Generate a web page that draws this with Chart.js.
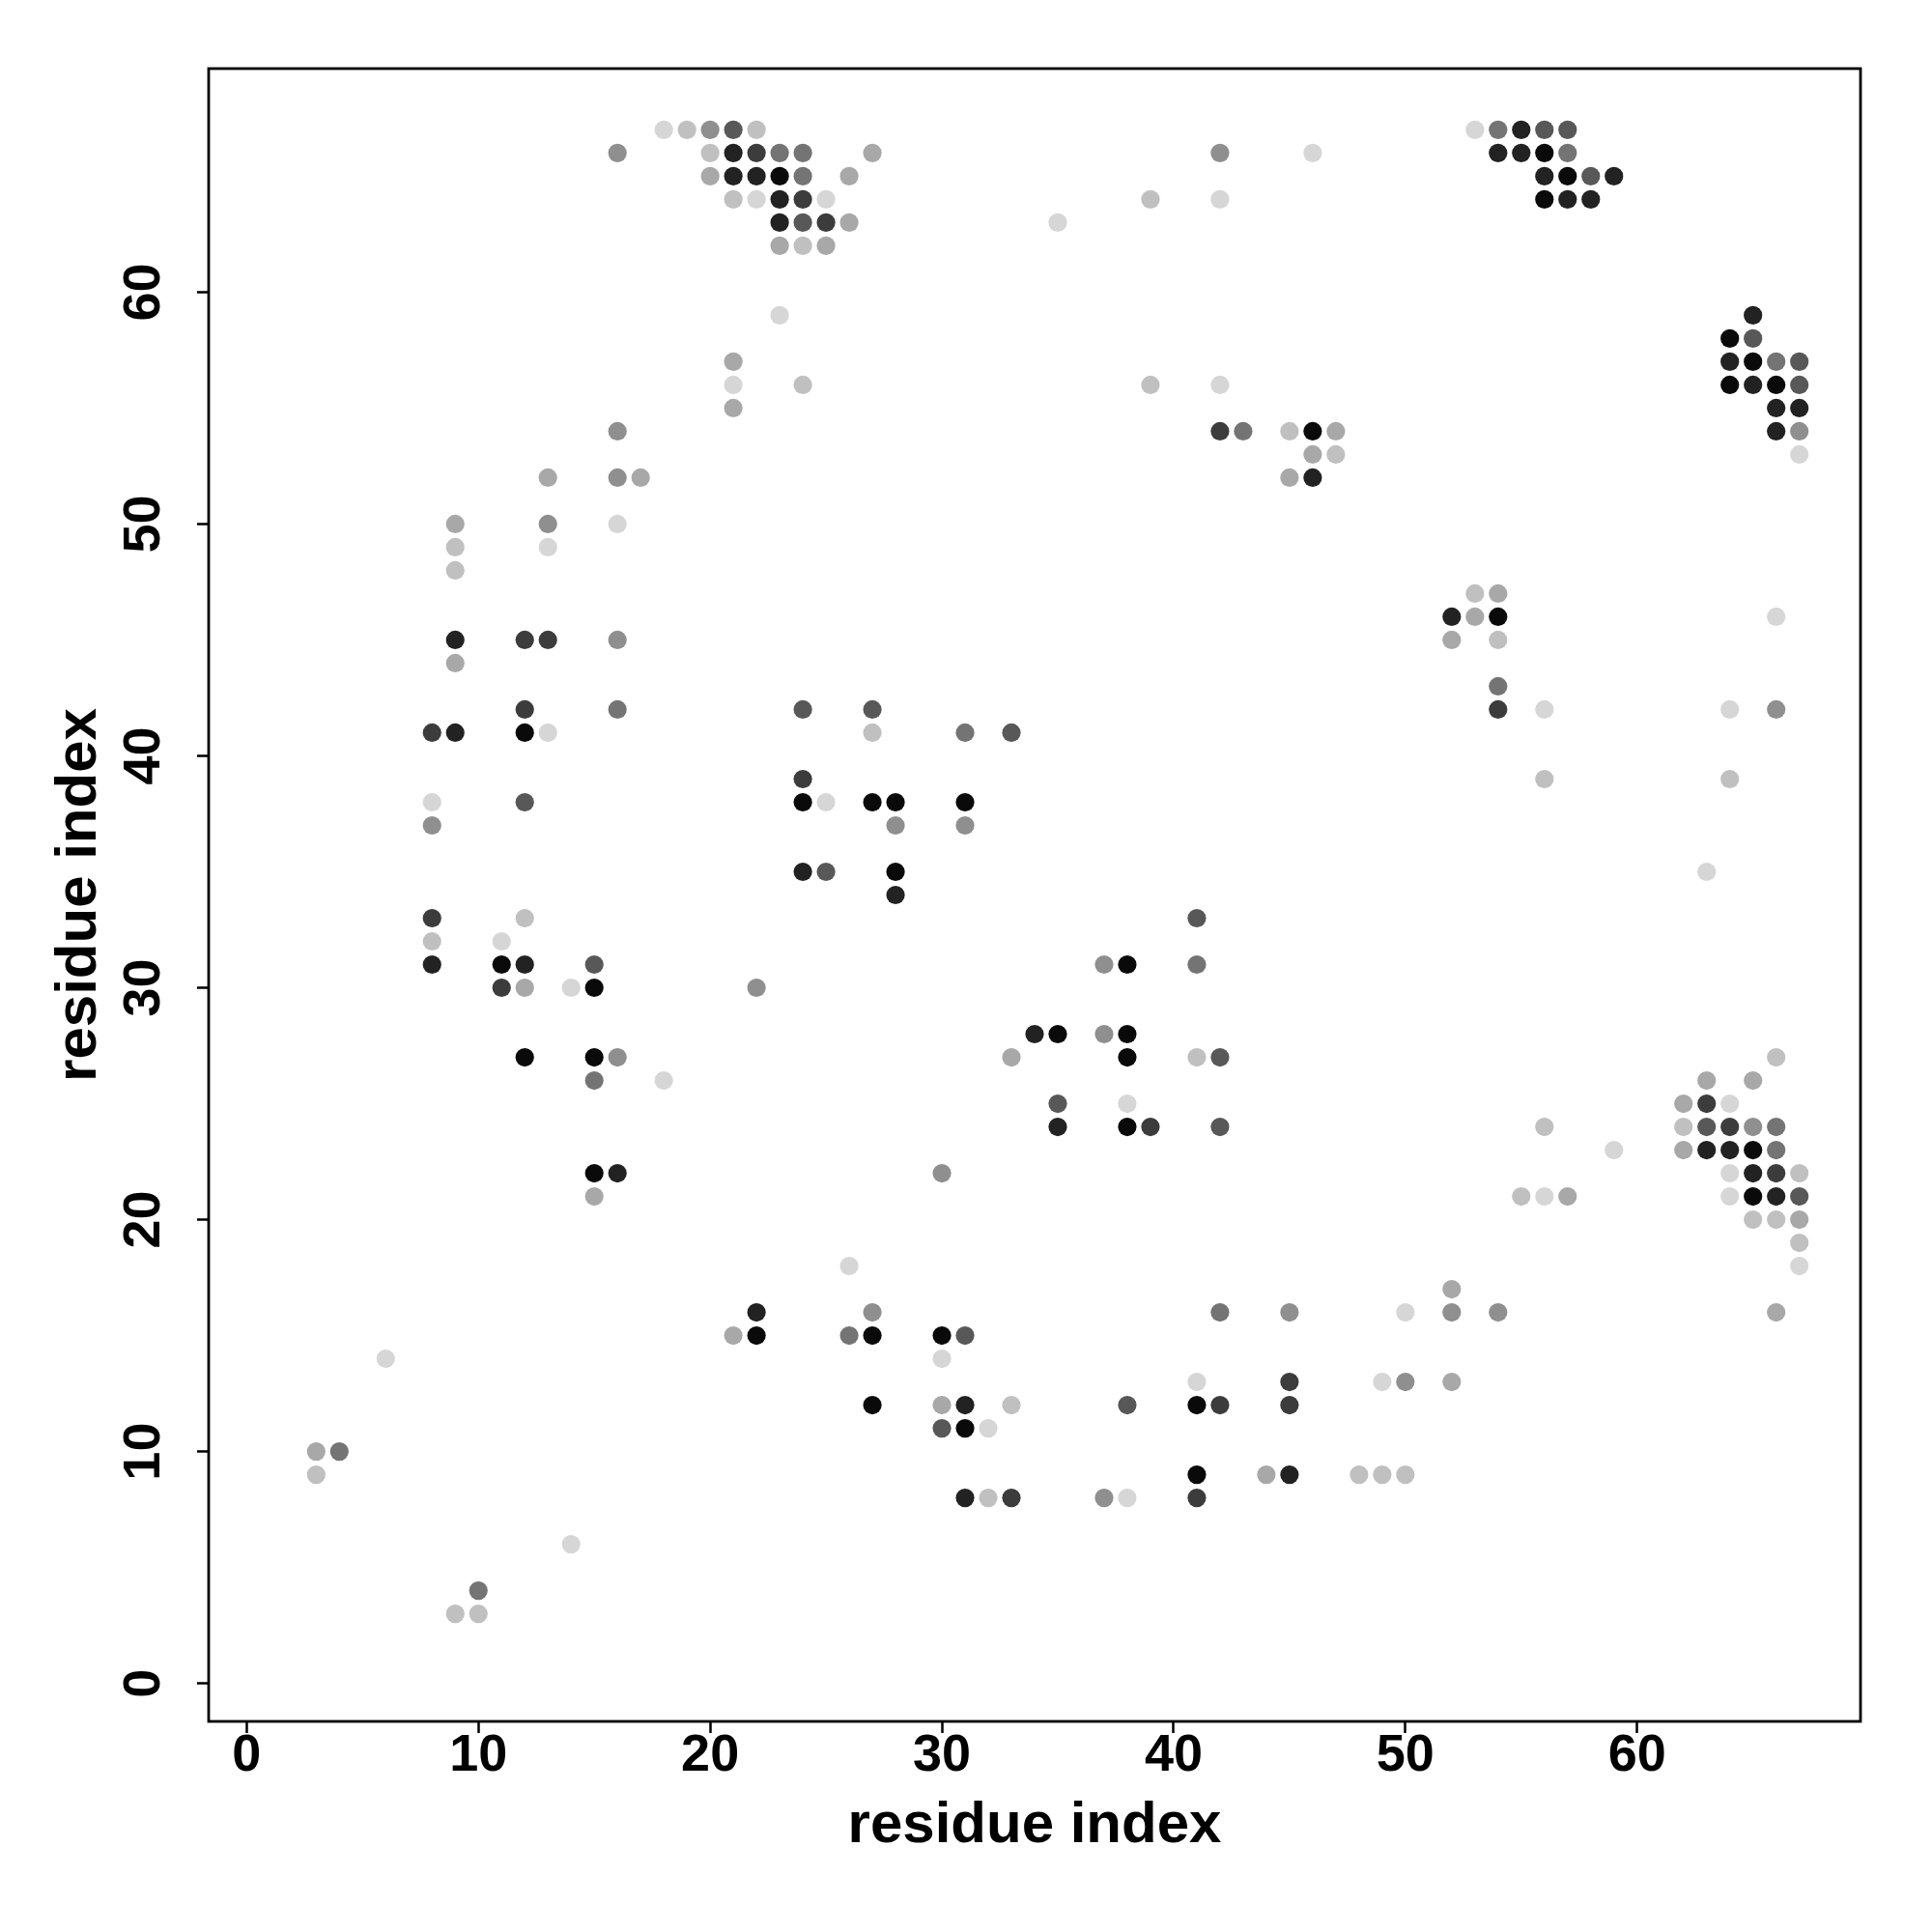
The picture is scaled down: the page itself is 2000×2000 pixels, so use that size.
<!DOCTYPE html>
<html>
<head>
<meta charset="utf-8">
<script src="https://cdn.jsdelivr.net/npm/chart.js@4.4.1/dist/chart.umd.min.js"></script>
<style>
  html, body { margin: 0; padding: 0; background: #fff; }
  canvas { display: block; }
</style>
</head>
<body>
<canvas id="contactMap" width="2000" height="2000"></canvas>
<script>
// axis ticks and limits
const xTicks = [0, 10, 20, 30, 40, 50, 60];
const yTicks = [0, 10, 20, 30, 40, 50, 60];
const axisMin = -1.64;
const axisMax = 69.64;

// one colour per contact strength, darkest first
const shadeColors = ["#0a0a0a", "#222222", "#3c3c3c", "#585858", "#747474",
                     "#8f8f8f", "#a8a8a8", "#c0c0c0", "#d6d6d6"];

// [residue i, residue j] pairs for each shade
const shade0 = [[23,65],[56,66],[57,65],[56,64],[64,58],[65,57],[64,56],[66,56],[46,54],[54,46],
  [12,41],[24,38],[27,38],[28,38],[31,38],[28,35],[11,31],[38,31],[15,30],[35,28],[38,28],
  [12,27],[15,27],[38,27],[38,24],[65,23],[15,22],[65,21],[22,15],[27,15],[30,15],[27,12],
  [41,12],[31,11],[41,9]];
const shade1 = [[55,67],[21,66],[54,66],[55,66],[21,65],[22,65],[56,65],[59,65],[23,64],[57,64],
  [58,64],[23,63],[65,59],[64,57],[65,56],[66,55],[67,55],[66,54],[46,52],[52,46],[9,45],
  [9,41],[24,35],[28,34],[8,31],[12,31],[34,28],[35,24],[63,23],[64,23],[16,22],[65,22],
  [66,21],[22,16],[31,12],[45,9],[31,8]];
const shade2 = [[22,66],[24,64],[25,63],[42,54],[12,45],[13,45],[12,42],[54,42],[8,41],[24,39],
  [8,33],[11,30],[63,25],[39,24],[64,24],[66,22],[45,13],[42,12],[45,12],[33,8],[41,8]];
const shade3 = [[21,67],[56,67],[57,67],[58,65],[24,63],[65,58],[67,57],[67,56],[24,42],[27,42],
  [33,41],[12,38],[25,35],[41,33],[15,31],[42,27],[35,25],[42,24],[63,24],[67,21],[31,15],
  [38,12],[30,11]];
const shade4 = [[54,67],[23,66],[24,66],[57,66],[24,65],[43,54],[66,57],[54,43],[16,42],[31,41],
  [41,31],[15,26],[66,24],[66,23],[42,16],[26,15],[4,10],[10,4]];
const shade5 = [[20,67],[16,66],[42,66],[16,54],[67,54],[16,52],[13,50],[16,45],[66,42],[8,37],
  [28,37],[31,37],[37,31],[22,30],[37,28],[16,27],[65,24],[30,22],[27,16],[45,16],[52,16],
  [54,16],[50,13],[37,8]];
const shade6 = [[27,66],[20,65],[26,65],[26,63],[23,62],[25,62],[21,57],[21,55],[47,54],[46,53],
  [13,52],[17,52],[45,52],[9,50],[54,47],[53,46],[52,45],[9,44],[12,30],[33,27],[63,26],
  [65,26],[62,25],[62,23],[15,21],[57,21],[67,20],[52,17],[66,16],[21,15],[52,13],[30,12],
  [3,10],[44,9]];
const shade7 = [[19,67],[22,67],[20,66],[21,64],[39,64],[24,62],[24,56],[39,56],[45,54],[47,53],
  [9,49],[9,48],[53,47],[54,45],[27,41],[56,39],[64,39],[12,33],[8,32],[41,27],[66,27],
  [56,24],[62,24],[67,22],[55,21],[65,20],[66,20],[67,19],[33,12],[3,9],[48,9],[49,9],
  [50,9],[32,8],[9,3],[10,3]];
const shade8 = [[18,67],[53,67],[46,66],[22,64],[25,64],[42,64],[35,63],[23,59],[21,56],[42,56],
  [67,53],[16,50],[13,49],[66,46],[56,42],[64,42],[13,41],[8,38],[25,38],[63,35],[11,32],
  [14,30],[18,26],[38,25],[64,25],[59,23],[64,22],[56,21],[64,21],[26,18],[67,18],[50,16],
  [6,14],[30,14],[41,13],[49,13],[32,11],[38,8],[14,6]];

const shades = [shade0, shade1, shade2, shade3, shade4, shade5, shade6, shade7, shade8];

const FONT = "'Liberation Sans', Arial, Helvetica, sans-serif";

// frame round the plot region
const boxPlugin = {
  id: "box",
  afterDatasetsDraw(chart) {
    const { ctx, chartArea: a } = chart;
    ctx.save();
    ctx.lineWidth = 2.8;
    ctx.strokeStyle = "#000";
    ctx.strokeRect(a.left, a.top, a.right - a.left, a.bottom - a.top);
    ctx.restore();
  }
};

const datasets = shades.map((pts, k) => ({
  label: "shade " + k,
  data: pts.map(p => ({ x: p[0], y: p[1] })),
  backgroundColor: shadeColors[k],
  borderWidth: 0,
  pointRadius: 9.6,
  pointHoverRadius: 9.6
}));

const ctx = document.getElementById("contactMap").getContext("2d");
new Chart(ctx, {
  type: "scatter",
  data: { datasets: datasets },
  plugins: [boxPlugin],
  options: {
    responsive: false,
    animation: false,
    layout: { padding: { left: 0, top: 71, right: 74, bottom: 0 } },
    plugins: {
      legend: { display: false },
      tooltip: { enabled: false }
    },
    scales: {
      x: {
        type: "linear",
        min: axisMin,
        max: axisMax,
        afterBuildTicks: s => { s.ticks = xTicks.map(v => ({ value: v })); },
        afterFit: s => { s.height = 218; },
        border: { display: false },
        grid: { display: true, drawOnChartArea: false, drawTicks: true,
                tickLength: 12, tickWidth: 2.5, tickColor: "#000" },
        ticks: { color: "#000", padding: 0, maxRotation: 0, autoSkip: false,
                 font: { family: FONT, size: 54, weight: "bold", lineHeight: 0.9 } },
        title: { display: true, text: "residue index", color: "#000",
                 padding: { top: 0, bottom: 80 },
                 font: { family: FONT, size: 60, weight: "bold", lineHeight: 1 } }
      },
      y: {
        type: "linear",
        min: axisMin,
        max: axisMax,
        afterBuildTicks: s => { s.ticks = yTicks.map(v => ({ value: v })); },
        afterFit: s => { s.width = 216; },
        border: { display: false },
        grid: { display: true, drawOnChartArea: false, drawTicks: true,
                tickLength: 12, tickWidth: 2.5, tickColor: "#000" },
        ticks: { color: "#000", padding: 24, minRotation: 90, maxRotation: 90,
                 crossAlign: "center", autoSkip: false,
                 font: { family: FONT, size: 54, weight: "bold", lineHeight: 1 } },
        title: { display: true, text: "residue index", color: "#000",
                 padding: { top: 52, bottom: 0 },
                 font: { family: FONT, size: 60, weight: "bold", lineHeight: 1 } }
      }
    }
  }
});
</script>
</body>
</html>
